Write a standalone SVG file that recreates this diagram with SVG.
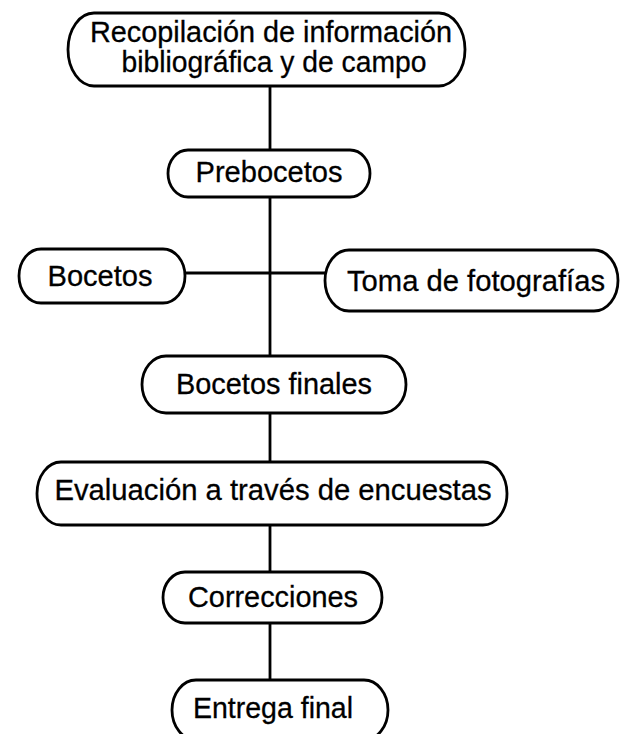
<svg xmlns="http://www.w3.org/2000/svg" width="620" height="734" viewBox="0 0 620 734">
<style>
.box{fill:#fff;stroke:#000;stroke-width:2.8}
.t{font-family:"Liberation Sans",Arial,sans-serif;font-size:30px;fill:#000;stroke:#000;stroke-width:0.3;text-anchor:middle}
.c{stroke:#000;stroke-width:2.8;fill:none}
</style>
<rect width="620" height="734" fill="#fff"/>
<g id="connectors">
<line class="c" x1="270" y1="86" x2="270" y2="680"/>
<line class="c" x1="185" y1="273" x2="325" y2="273"/>
</g>
<g id="n1">
<rect class="box" x="68" y="13" width="397" height="73" rx="26" ry="36.5"/>
<text class="t" x="271" y="42" textLength="362" lengthAdjust="spacingAndGlyphs">Recopilación de información</text>
<text class="t" x="274" y="72" textLength="305" lengthAdjust="spacingAndGlyphs">bibliográfica y de campo</text>
</g>
<g id="n2">
<rect class="box" x="168" y="150" width="202" height="47" rx="20" ry="23.5"/>
<text class="t" x="269" y="182" textLength="147" lengthAdjust="spacingAndGlyphs">Prebocetos</text>
</g>
<g id="n3">
<rect class="box" x="19" y="249" width="166" height="54" rx="22" ry="27"/>
<text class="t" x="100" y="286" textLength="105" lengthAdjust="spacingAndGlyphs">Bocetos</text>
</g>
<g id="n4">
<rect class="box" x="325" y="250" width="293" height="61" rx="24" ry="30.5"/>
<text class="t" x="476" y="291" textLength="258" lengthAdjust="spacingAndGlyphs">Toma de fotografías</text>
</g>
<g id="n5">
<rect class="box" x="142" y="356" width="264" height="57" rx="24" ry="28.5"/>
<text class="t" x="274" y="394" textLength="196" lengthAdjust="spacingAndGlyphs">Bocetos finales</text>
</g>
<g id="n6">
<rect class="box" x="37" y="462" width="470" height="63" rx="24" ry="31.5"/>
<text class="t" x="273" y="500" textLength="437" lengthAdjust="spacingAndGlyphs">Evaluación a través de encuestas</text>
</g>
<g id="n7">
<rect class="box" x="163" y="572" width="219" height="51" rx="22" ry="25.5"/>
<text class="t" x="273" y="607" textLength="170" lengthAdjust="spacingAndGlyphs">Correcciones</text>
</g>
<g id="n8">
<rect class="box" x="172" y="680" width="216" height="60" rx="24" ry="30"/>
<text class="t" x="273" y="718" textLength="160" lengthAdjust="spacingAndGlyphs">Entrega final</text>
</g>
</svg>
